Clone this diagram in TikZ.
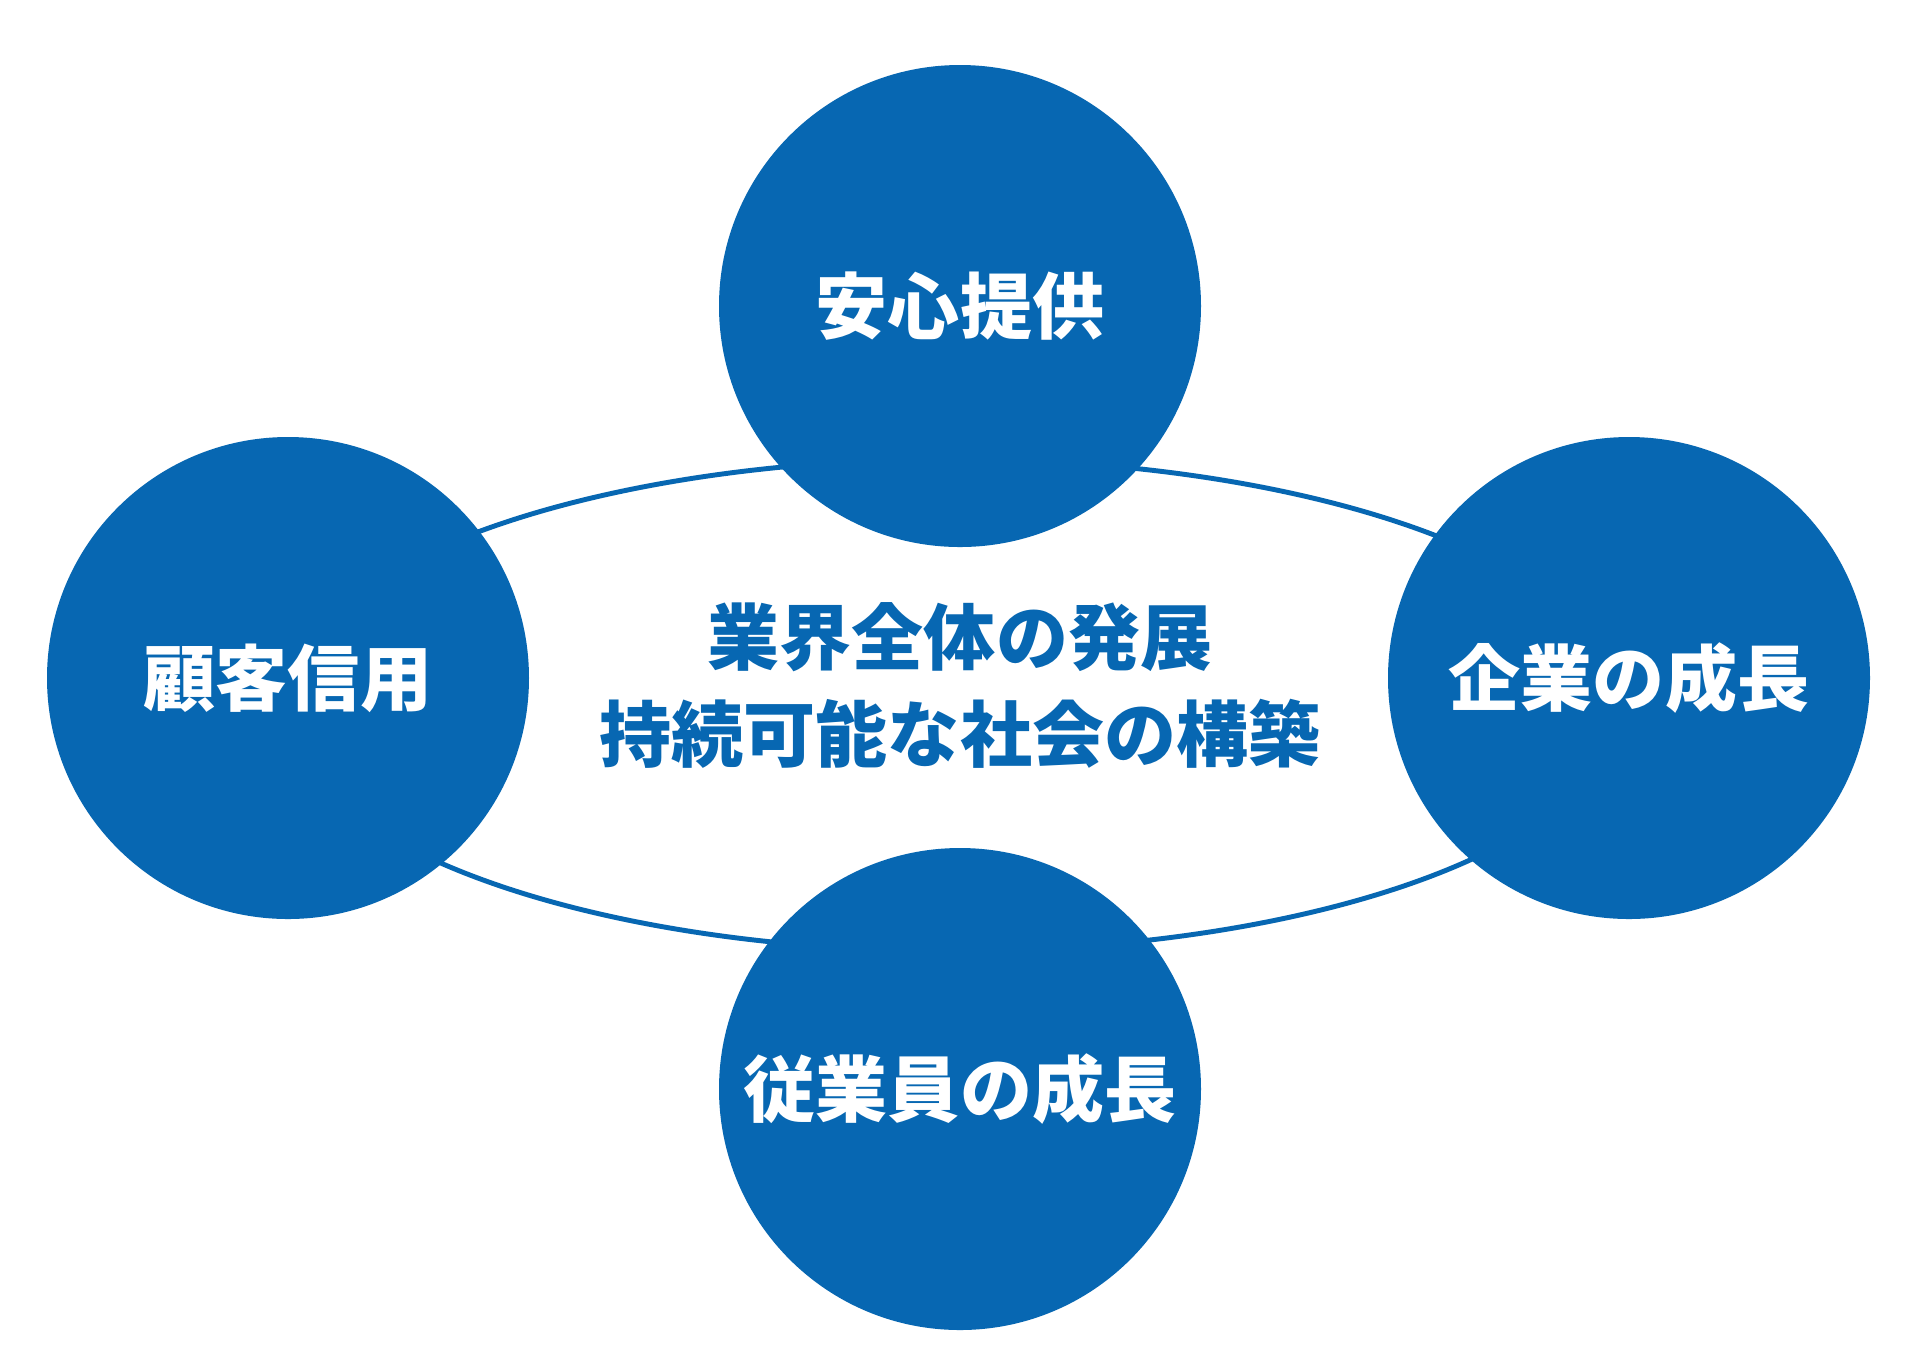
\documentclass[tikz,border=0pt]{standalone}
\usepackage{fontspec}
\setmainfont{Noto Sans CJK JP}
\definecolor{mainblue}{HTML}{0767B2}
\tikzset{
  bigcircle/.style={circle, fill=mainblue, draw=none, inner sep=0pt, minimum size=48.2mm,
    text=white, font=\bfseries\fontsize{20.5pt}{24pt}\selectfont},
  centertext/.style={text=mainblue, align=center, inner sep=0pt,
    font=\bfseries\fontsize{20.5pt}{27.6pt}\selectfont},
  ring/.style={draw=mainblue, line width=1.4pt}
}
\begin{document}
\begin{tikzpicture}[x=0.1mm,y=-0.1mm]
\useasboundingbox (0,0) rectangle (1920,1357);
\fill[white] (0,0) rectangle (1920,1357);
\draw[ring] (952,705) ellipse [x radius=667, y radius=246];
\node[bigcircle] (top) at (960,306) {安心提供};
\node[bigcircle] (left) at (288,678) {顧客信用};
\node[bigcircle] (right) at (1629,678) {企業の成長};
\node[bigcircle] (bottom) at (960,1089) {従業員の成長};
\node[centertext] (center) at (960,685) {業界全体の発展\\持続可能な社会の構築};
\end{tikzpicture}
\end{document}
